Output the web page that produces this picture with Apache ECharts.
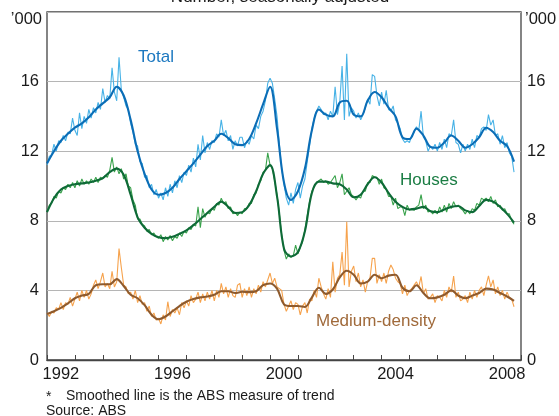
<!DOCTYPE html>
<html><head><meta charset="utf-8">
<script src="https://cdn.jsdelivr.net/npm/echarts@6/dist/echarts.min.js"></script>
<style>html,body{margin:0;padding:0;background:#fff}#c{width:559px;height:416px}</style>
</head><body><div id="c"></div>
<script>
const years = ['1992','1993','1994','1995','1996','1997','1998','1999','2000','2001','2002','2003','2004','2005','2006','2007','2008'];
const yTicks = [0, 4, 8, 12, 16, 20];
// Monthly, seasonally adjusted ('000), Jan 1992 onwards
const totalRaw = [
11.2,11.7,11.8,12.4,12.0,12.6,12.5,12.9,12.6,13.1,13.0,13.9,
13.2,12.9,14.2,13.3,14.0,13.6,14.4,13.9,14.5,14.2,14.8,14.4,
15.6,14.8,15.2,15.0,16.8,15.4,14.9,17.4,15.5,15.1,14.6,14.4,
13.6,13.1,12.4,12.3,11.4,11.3,10.5,10.6,9.9,10.1,9.5,9.8,
9.3,9.6,9.2,9.9,9.4,10.1,9.6,10.3,9.9,10.6,10.2,10.8,
10.6,11.2,10.8,11.6,11.1,12.4,11.5,12.9,11.9,12.5,12.1,12.6,
12.5,13.0,12.8,13.8,12.9,13.2,12.6,12.9,12.1,12.6,12.3,12.8,
12.8,12.2,12.6,12.4,12.9,12.7,13.5,13.3,14.0,14.3,14.9,15.9,
16.2,15.9,15.0,14.0,12.4,11.0,10.1,9.3,8.9,9.6,9.0,9.8,
10.2,9.3,10.0,10.4,11.4,12.3,13.3,13.9,14.3,14.6,14.4,14.1,
14.2,13.8,14.3,14.0,15.7,14.1,14.8,16.9,13.8,17.6,14.0,14.5,
14.3,13.9,14.2,13.8,14.1,14.5,15.0,14.7,16.4,16.3,15.2,14.6,
15.4,14.7,15.5,14.4,14.3,14.6,13.8,13.6,13.3,12.7,12.5,12.6,
12.5,12.9,13.1,13.4,13.2,14.3,12.8,12.6,12.0,12.3,12.1,12.4,
12.0,12.5,12.1,12.7,12.2,13.0,12.9,13.8,12.5,12.4,11.9,12.4,
12.0,12.4,12.1,12.7,12.2,12.9,12.8,13.3,13.4,13.2,14.1,13.5,
13.8,12.9,13.0,12.4,12.9,12.2,12.5,11.9,11.7,10.8
];
const housesRaw = [
8.5,8.9,9.0,9.4,9.3,9.7,9.6,9.9,9.8,10.1,9.9,10.2,
9.9,10.3,10.0,10.4,10.1,10.3,10.1,10.4,10.2,10.5,10.2,10.5,
10.4,10.6,10.5,10.9,11.65,10.8,11.1,10.7,11.0,10.4,10.7,10.0,
9.9,9.2,8.9,8.1,8.1,7.8,7.7,7.4,7.5,7.2,7.3,7.1,
7.0,7.2,6.8,7.1,6.9,7.15,6.85,7.1,7.0,7.3,7.1,7.4,
7.3,7.6,7.5,7.8,7.7,8.8,7.6,8.7,8.2,8.5,8.4,8.7,
8.6,9.0,8.9,9.3,9.0,9.1,8.7,8.8,8.4,8.5,8.3,8.5,
8.4,8.7,8.7,9.0,9.0,9.5,9.6,10.1,10.3,10.8,10.9,11.9,
11.2,11.0,10.3,9.5,8.4,7.2,6.3,5.8,6.1,5.9,6.0,6.6,
6.1,6.5,6.8,7.5,8.3,9.1,9.7,10.0,10.2,10.3,10.4,10.2,
10.3,10.1,10.2,10.4,10.6,9.9,10.2,10.7,9.5,9.7,9.9,9.5,
9.4,9.2,9.4,9.3,9.7,9.7,10.2,10.2,10.6,10.5,10.5,10.1,
10.4,9.9,9.8,9.4,9.4,8.9,9.3,8.7,8.8,8.8,8.3,8.9,
8.6,8.7,8.6,8.8,8.9,9.5,8.7,8.9,8.5,8.6,8.4,8.6,
8.4,8.8,8.5,8.9,8.5,9.0,8.7,9.1,8.8,8.9,8.7,8.6,
8.4,8.6,8.4,8.7,8.6,9.0,8.9,9.3,9.2,9.3,9.1,9.4,
9.0,9.2,8.8,8.9,8.6,8.7,8.4,8.4,8.0,7.8
];
const mediumRaw = [
2.7,2.5,2.8,2.7,3.0,2.9,3.3,2.9,3.3,3.2,3.6,3.1,
3.5,3.9,3.4,4.0,3.6,4.0,3.5,3.8,4.3,4.6,4.1,4.5,
5.0,4.2,4.4,4.1,5.1,4.2,4.5,6.4,5.3,4.3,4.2,3.8,
3.9,3.5,4.0,3.3,3.7,3.2,3.3,2.8,3.1,2.5,2.7,2.3,
2.4,2.07,2.6,2.3,3.35,2.5,2.9,2.7,3.0,2.6,3.3,3.0,
3.4,3.1,3.7,3.3,3.5,3.9,3.3,3.8,3.4,3.9,3.5,4.0,
3.4,4.0,3.6,4.4,3.8,4.2,3.6,4.1,3.7,3.6,4.3,4.4,
3.6,4.1,3.7,4.2,3.6,4.1,3.8,4.3,3.9,4.5,4.2,4.6,
5.0,4.4,4.7,4.2,4.1,4.0,3.2,2.8,3.1,3.4,2.9,3.3,
3.2,2.6,3.1,3.3,2.7,3.5,3.4,4.0,3.6,4.7,4.2,3.8,
3.5,4.1,3.6,5.65,3.9,4.7,4.9,6.2,4.3,7.95,4.2,5.1,
5.4,4.5,5.0,4.2,4.6,3.9,4.5,4.7,5.84,5.84,4.4,4.9,
4.5,5.0,4.4,5.1,5.46,5.2,4.7,4.5,4.4,3.8,4.3,3.7,
4.0,4.1,4.3,4.5,4.2,4.8,3.8,4.1,3.5,3.6,3.8,3.3,
3.7,3.6,3.4,4.0,3.6,4.2,3.9,4.83,3.6,3.9,3.4,3.5,
3.7,3.3,3.9,3.5,4.0,3.6,4.0,4.2,3.7,4.3,4.83,4.2,
4.6,3.8,4.2,3.7,4.0,3.5,3.9,3.6,3.5,3.06
];
// ABS trend, read quarterly (Jan 1992 onwards)
const totalTrend = [
11.3,12.0,12.6,13.0, 13.35,13.6,13.95,14.4, 14.75,15.1,15.7,15.2,
13.8,12.0,10.7,9.8, 9.5,9.6,9.9,10.4, 10.85,11.3,11.8,12.3,
12.6,13.0,12.75,12.4, 12.35,12.7,13.6,14.7, 15.7,13.3,10.2,9.2,
9.7,11.0,13.2,14.4, 14.1,14.0,14.8,14.9, 14.1,14.0,14.9,15.4,
15.1,14.5,14.0,12.8, 12.7,13.3,12.9,12.25, 12.2,12.5,12.9,12.6,
12.2,12.4,12.8,13.35, 13.1,12.6,12.3,11.4
];
const housesTrend = [
8.5,9.3,9.8,10.0, 10.1,10.15,10.2,10.3, 10.45,10.8,11.0,10.65,
9.5,8.2,7.6,7.25, 7.05,7.0,7.08,7.25, 7.45,7.75,8.1,8.45,
8.8,9.1,8.8,8.45, 8.5,8.9,9.7,10.7, 11.2,9.4,6.4,5.95,
6.2,7.4,9.6,10.25, 10.25,10.15,10.1,9.8, 9.35,9.5,10.1,10.5,
10.2,9.6,9.1,8.8, 8.65,8.7,8.8,8.55, 8.5,8.65,8.8,8.85,
8.6,8.5,8.85,9.2, 9.1,8.8,8.4,7.9
];
const mediumTrend = [
2.65,2.8,3.0,3.25, 3.55,3.7,3.8,4.3, 4.35,4.35,4.65,4.25,
3.75,3.55,3.15,2.6, 2.34,2.5,2.8,3.1, 3.35,3.5,3.6,3.65,
3.75,3.95,3.95,3.85, 3.92,3.9,3.95,4.3, 4.4,4.1,3.2,3.1,
3.1,3.05,3.6,4.15, 3.8,4.05,4.75,5.13, 4.9,4.4,4.5,4.9,
4.7,4.85,4.9,4.15, 3.95,4.3,3.85,3.55, 3.6,3.75,4.0,3.7,
3.55,3.7,3.85,4.1, 4.05,3.85,3.65,3.4
];

const monthly = a => a.map((v, i) => [1992 + i / 12, v]);
const quarterly = a => a.map((v, i) => [1992 + i / 4, v]);
const FONT = 'Arial, "Liberation Sans", sans-serif';

function raw(name, data, color) {
  return {name, type: 'line', xAxisIndex: 1, yAxisIndex: 0, data: monthly(data), symbol: 'none',
    lineStyle: {color, width: 1.1}, itemStyle: {color}, z: 2};
}
function trend(name, data, color) {
  return {name, type: 'line', xAxisIndex: 1, yAxisIndex: 0, data: quarterly(data), symbol: 'none', smooth: 0.35,
    lineStyle: {color, width: 2.1}, itemStyle: {color}, z: 3};
}

const chart = echarts.init(document.getElementById('c'), null, {renderer: 'canvas'});
chart.setOption({
  animation: false,
  backgroundColor: '#fff',
  textStyle: {fontFamily: FONT},
  grid: {left: 47, right: 38, top: 12, bottom: 56, show: true, borderColor: '#444', borderWidth: 1.3, backgroundColor: 'transparent'},
  xAxis: [
    {type: 'category', data: years, boundaryGap: true, gridIndex: 0,
      axisLine: {show: true, lineStyle: {color: '#444', width: 1.3}},
      axisTick: {show: true, inside: true, length: 5, interval: 0, lineStyle: {color: '#444', width: 1}},
      axisLabel: {interval: 3, fontSize: 16.5, color: '#1a1a1a', margin: 6, fontFamily: FONT},
      splitLine: {show: false}},
    {type: 'value', min: 1992, max: 2009, show: false, gridIndex: 0}
  ],
  yAxis: [
    {type: 'value', min: yTicks[0], max: yTicks[yTicks.length - 1], interval: 4, position: 'left',
      axisLine: {show: false}, axisTick: {show: false},
      axisLabel: {fontSize: 16.5, color: '#1a1a1a', margin: 8, fontFamily: FONT, formatter: v => (v === 20 ? '' : String(v))},
      splitLine: {show: true, lineStyle: {color: '#b5b5b5', width: 1}}},
    {type: 'value', min: yTicks[0], max: yTicks[yTicks.length - 1], interval: 4, position: 'right',
      axisLine: {show: false}, axisTick: {show: false},
      axisLabel: {fontSize: 16.5, color: '#1a1a1a', margin: 6, fontFamily: FONT, formatter: v => (v === 20 ? '' : String(v))},
      splitLine: {show: false}}
  ],
  series: [
    raw('Total (actual)', totalRaw, '#47b2e6'),
    trend('Total', totalTrend, '#0b6db6'),
    raw('Houses (actual)', housesRaw, '#3aa34c'),
    trend('Houses', housesTrend, '#0e6a37'),
    raw('Medium-density (actual)', mediumRaw, '#f6a24c'),
    trend('Medium-density', mediumTrend, '#8e5a2d')
  ],
  graphic: [
    {type: 'text', x: 280, y: -2.5, style: {text: 'Number, seasonally adjusted', fontSize: 17, fill: '#1a1a1a', align: 'center', verticalAlign: 'middle', fontFamily: FONT}},
    {type: 'text', x: 42, y: 19, style: {text: '’000', fontSize: 16.5, fill: '#1a1a1a', align: 'right', verticalAlign: 'middle', fontFamily: FONT}},
    {type: 'text', x: 525, y: 19, style: {text: '’000', fontSize: 16.5, fill: '#1a1a1a', align: 'left', verticalAlign: 'middle', fontFamily: FONT}},
    {type: 'text', x: 138, y: 57, style: {text: 'Total', fontSize: 17, fill: '#1c78c0', align: 'left', verticalAlign: 'middle', fontFamily: FONT}},
    {type: 'text', x: 400, y: 180, style: {text: 'Houses', fontSize: 17, fill: '#1b7d44', align: 'left', verticalAlign: 'middle', fontFamily: FONT}},
    {type: 'text', x: 316, y: 321, style: {text: 'Medium-density', fontSize: 17, fill: '#a06a3b', align: 'left', verticalAlign: 'middle', fontFamily: FONT}},
    {type: 'text', x: 46, y: 397, style: {text: '*', fontSize: 14, fill: '#1a1a1a', align: 'left', verticalAlign: 'middle', fontFamily: FONT}},
    {type: 'text', x: 66, y: 396, style: {text: 'Smoothed line is the ABS measure of trend', fontSize: 14, fill: '#1a1a1a', align: 'left', verticalAlign: 'middle', fontFamily: FONT}},
    {type: 'text', x: 46, y: 411, style: {text: 'Source: ABS', fontSize: 14, fill: '#1a1a1a', align: 'left', verticalAlign: 'middle', fontFamily: FONT}}
  ]
});
</script></body></html>
